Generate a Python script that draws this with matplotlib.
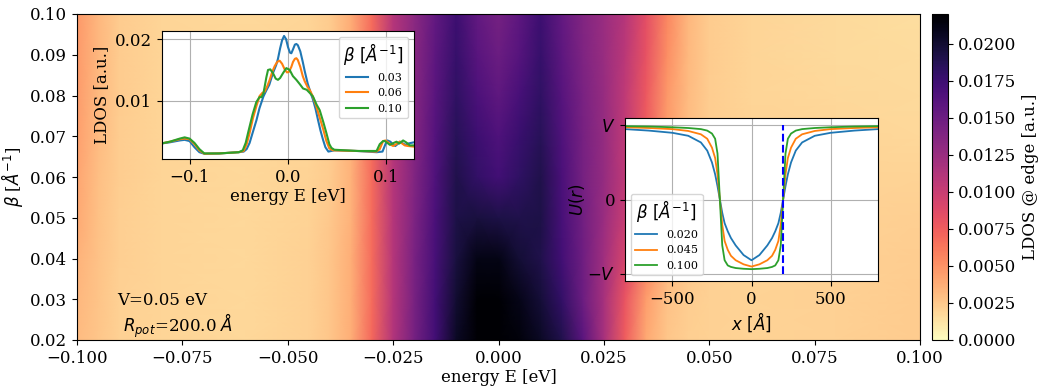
import numpy as np
import matplotlib
matplotlib.use("Agg")
import matplotlib.pyplot as plt

plt.rcParams['font.family'] = 'DejaVu Serif'
plt.rcParams['mathtext.fontset'] = 'dejavusans'
plt.rcParams['font.size'] = 12

# ---------------- main heatmap data ----------------
energy = [-0.100, -0.095, -0.090, -0.080, -0.060, -0.045, -0.040, -0.035, -0.030, -0.025,
          -0.020, -0.015, -0.010, -0.005, 0.000, 0.005, 0.010, 0.015, 0.020, 0.025,
          0.030, 0.035, 0.040, 0.045, 0.050, 0.060, 0.080, 0.100]
beta = [0.02, 0.03, 0.04, 0.05, 0.06, 0.07, 0.08, 0.09, 0.10]

ldos_b002 = [0.0031, 0.0026, 0.0021, 0.0019, 0.0018, 0.0021, 0.0026, 0.0037, 0.0070, 0.0112, 0.0145, 0.0172, 0.0205, 0.0235, 0.0232, 0.0215, 0.0205, 0.0190, 0.0160, 0.0118, 0.0075, 0.0040, 0.0026, 0.0022, 0.0021, 0.0020, 0.0021, 0.0024]
ldos_b003 = [0.0033, 0.0027, 0.0021, 0.0019, 0.0018, 0.0021, 0.0026, 0.0037, 0.0068, 0.0110, 0.0143, 0.0172, 0.0200, 0.0225, 0.0225, 0.0210, 0.0197, 0.0180, 0.0150, 0.0118, 0.0080, 0.0045, 0.0028, 0.0023, 0.0021, 0.0020, 0.0021, 0.0024]
ldos_b004 = [0.0036, 0.0028, 0.0022, 0.0019, 0.0018, 0.0021, 0.0026, 0.0037, 0.0068, 0.0110, 0.0142, 0.0170, 0.0195, 0.0212, 0.0212, 0.0198, 0.0190, 0.0172, 0.0148, 0.0122, 0.0092, 0.0060, 0.0035, 0.0026, 0.0022, 0.0020, 0.0021, 0.0023]
ldos_b005 = [0.0040, 0.0029, 0.0022, 0.0019, 0.0018, 0.0020, 0.0025, 0.0036, 0.0068, 0.0110, 0.0140, 0.0168, 0.0192, 0.0195, 0.0192, 0.0190, 0.0192, 0.0170, 0.0147, 0.0125, 0.0100, 0.0068, 0.0040, 0.0028, 0.0023, 0.0020, 0.0020, 0.0022]
ldos_b006 = [0.0042, 0.0030, 0.0023, 0.0019, 0.0018, 0.0020, 0.0024, 0.0036, 0.0068, 0.0110, 0.0138, 0.0165, 0.0190, 0.0180, 0.0172, 0.0182, 0.0190, 0.0168, 0.0145, 0.0128, 0.0105, 0.0072, 0.0043, 0.0029, 0.0023, 0.0020, 0.0019, 0.0020]
ldos_b007 = [0.0044, 0.0031, 0.0023, 0.0019, 0.0018, 0.0019, 0.0023, 0.0036, 0.0068, 0.0110, 0.0136, 0.0163, 0.0186, 0.0175, 0.0165, 0.0177, 0.0186, 0.0165, 0.0144, 0.0128, 0.0105, 0.0075, 0.0045, 0.0030, 0.0023, 0.0020, 0.0019, 0.0018]
ldos_b008 = [0.0046, 0.0032, 0.0024, 0.0019, 0.0018, 0.0019, 0.0023, 0.0037, 0.0068, 0.0110, 0.0135, 0.0160, 0.0182, 0.0167, 0.0157, 0.0170, 0.0182, 0.0162, 0.0142, 0.0127, 0.0105, 0.0078, 0.0048, 0.0031, 0.0023, 0.0019, 0.0018, 0.0017]
ldos_b009 = [0.0047, 0.0033, 0.0024, 0.0019, 0.0018, 0.0019, 0.0024, 0.0038, 0.0068, 0.0110, 0.0134, 0.0158, 0.0178, 0.0160, 0.0150, 0.0162, 0.0178, 0.0158, 0.0140, 0.0126, 0.0108, 0.0082, 0.0052, 0.0032, 0.0024, 0.0019, 0.0017, 0.0016]
ldos_b010 = [0.0048, 0.0033, 0.0024, 0.0019, 0.0018, 0.0019, 0.0024, 0.0038, 0.0068, 0.0110, 0.0133, 0.0155, 0.0175, 0.0155, 0.0145, 0.0158, 0.0175, 0.0155, 0.0138, 0.0125, 0.0110, 0.0085, 0.0055, 0.0033, 0.0024, 0.0019, 0.0017, 0.0015]

# ---------------- inset 1: LDOS vs energy ----------------
E_b003 = [-0.129, -0.12, -0.11, -0.105, -0.10, -0.095, -0.09, -0.085, -0.07, -0.05, -0.045, -0.042, -0.039, -0.036,
          -0.032, -0.029, -0.025, -0.022, -0.019, -0.0153, -0.012, -0.0102, -0.008, -0.006, -0.004, -0.002, 0.000,
          0.002, 0.0034, 0.005, 0.007, 0.0085, 0.010, 0.0125, 0.015, 0.017, 0.020, 0.023, 0.0254, 0.028, 0.0305,
          0.033, 0.0356, 0.038, 0.041, 0.044, 0.047, 0.07, 0.09, 0.096, 0.099, 0.101, 0.104, 0.107, 0.109, 0.112,
          0.1136, 0.116, 0.119, 0.122, 0.128]
L_b003 = [0.0031, 0.0033, 0.0036, 0.0037, 0.0035, 0.0025, 0.0017, 0.00145, 0.0015, 0.0017, 0.0018, 0.0022, 0.0032,
          0.0048, 0.0069, 0.0088, 0.0107, 0.0117, 0.0126, 0.0145, 0.0158, 0.0168, 0.0185, 0.0198, 0.0205, 0.0200,
          0.0187, 0.0178, 0.0177, 0.0183, 0.0191, 0.0192, 0.0190, 0.0180, 0.0163, 0.0148, 0.0128, 0.0113, 0.0102,
          0.0087, 0.0069, 0.0052, 0.0037, 0.0025, 0.0018, 0.0019, 0.0020, 0.0019, 0.0017, 0.0018, 0.0030, 0.0036,
          0.0034, 0.0029, 0.0027, 0.0031, 0.0034, 0.0032, 0.0029, 0.0031, 0.0033]
E_b006 = [-0.129, -0.12, -0.11, -0.105, -0.10, -0.095, -0.09, -0.085, -0.07, -0.05, -0.045, -0.042, -0.039, -0.0356,
          -0.032, -0.0288, -0.026, -0.0237, -0.021, -0.0186, -0.016, -0.0136, -0.011, -0.0085, -0.006, -0.0034,
          -0.001, 0.001, 0.0034, 0.0051, 0.007, 0.0085, 0.010, 0.0125, 0.015, 0.0169, 0.020, 0.022, 0.025, 0.0288,
          0.032, 0.0356, 0.039, 0.042, 0.0458, 0.07, 0.09, 0.0932, 0.0966, 0.099, 0.1017, 0.1045, 0.1068, 0.110,
          0.1136, 0.116, 0.1186, 0.122, 0.128]
L_b006 = [0.0031, 0.0034, 0.0038, 0.0039, 0.0038, 0.0030, 0.0020, 0.00145, 0.0015, 0.0017, 0.0019, 0.0030, 0.0048,
          0.0072, 0.0092, 0.0108, 0.0113, 0.0115, 0.0124, 0.0134, 0.0147, 0.0156, 0.0163, 0.0165, 0.0160, 0.0151,
          0.0146, 0.0147, 0.0155, 0.0163, 0.0168, 0.0169, 0.0166, 0.0155, 0.0140, 0.0132, 0.0122, 0.0118, 0.0108,
          0.0091, 0.0074, 0.0055, 0.0035, 0.0023, 0.0020, 0.0019, 0.0018, 0.0022, 0.0035, 0.0036, 0.0033, 0.0029,
          0.0027, 0.0030, 0.0034, 0.0031, 0.0028, 0.0027, 0.0026]
E_b010 = [-0.129, -0.12, -0.11, -0.105, -0.10, -0.095, -0.09, -0.085, -0.07, -0.05, -0.046, -0.043, -0.040, -0.036,
          -0.0322, -0.029, -0.027, -0.025, -0.0237, -0.022, -0.0203, -0.018, -0.0153, -0.0125, -0.0102, -0.008,
          -0.005, -0.0017, 0.0017, 0.005, 0.0085, 0.012, 0.0153, 0.019, 0.022, 0.0254, 0.029, 0.0322, 0.036, 0.039,
          0.042, 0.0441, 0.047, 0.07, 0.09, 0.0932, 0.0966, 0.0983, 0.101, 0.1034, 0.106, 0.1102, 0.113, 0.1169,
          0.120, 0.1237, 0.128]
L_b010 = [0.0031, 0.0034, 0.0039, 0.0041, 0.0039, 0.0032, 0.0022, 0.0015, 0.0015, 0.0017, 0.0020, 0.0032, 0.0052,
          0.0078, 0.0098, 0.0106, 0.0106, 0.0112, 0.0123, 0.0138, 0.0150, 0.0151, 0.0145, 0.0136, 0.0134, 0.0137,
          0.0145, 0.0153, 0.0150, 0.0140, 0.0134, 0.0127, 0.0120, 0.0118, 0.0113, 0.0107, 0.0094, 0.0085, 0.0065,
          0.0048, 0.0030, 0.0024, 0.0021, 0.0019, 0.0019, 0.0030, 0.0035, 0.0035, 0.0032, 0.0029, 0.0031, 0.0034,
          0.0031, 0.0036, 0.0033, 0.0028, 0.0028]

# ---------------- inset 2: potential profiles ----------------
V = 0.05
R_pot = 200.0
x_pos = [-800, -650, -500, -400, -320, -280, -250, -230, -215, -200, -185, -170, -150, -130, -100, -50, 0,
         50, 100, 130, 150, 170, 185, 200, 215, 230, 250, 280, 320, 400, 500, 650, 800]
U_b0020 = [0.95, 0.93, 0.90, 0.86, 0.77, 0.66, 0.50, 0.34, 0.18, 0.0, -0.18, -0.32, -0.43, -0.52, -0.62, -0.75, -0.82,
           -0.75, -0.62, -0.52, -0.43, -0.32, -0.18, 0.0, 0.18, 0.34, 0.50, 0.66, 0.77, 0.86, 0.90, 0.93, 0.95]
U_b0045 = [0.975, 0.965, 0.95, 0.925, 0.88, 0.82, 0.70, 0.56, 0.34, 0.0, -0.34, -0.56, -0.68, -0.76, -0.82, -0.875, -0.905,
           -0.875, -0.82, -0.76, -0.68, -0.56, -0.34, 0.0, 0.34, 0.56, 0.70, 0.82, 0.88, 0.925, 0.95, 0.965, 0.975]
U_b0100 = [0.99, 0.985, 0.975, 0.965, 0.95, 0.93, 0.89, 0.82, 0.62, 0.0, -0.62, -0.82, -0.89, -0.91, -0.925, -0.935, -0.94,
           -0.935, -0.925, -0.91, -0.89, -0.82, -0.62, 0.0, 0.62, 0.82, 0.89, 0.93, 0.95, 0.965, 0.975, 0.985, 0.99]

W, H = 1038, 392
fig = plt.figure(figsize=(W / 100, H / 100), dpi=100)

def rect(x0, y0, x1, y1):
    return [x0 / W, 1 - y1 / H, (x1 - x0) / W, (y1 - y0) / H]

ax = fig.add_axes(rect(77, 14, 920, 340))
cax = fig.add_axes(rect(932, 14, 948, 340))

Z = np.array([ldos_b002, ldos_b003, ldos_b004, ldos_b005, ldos_b006,
              ldos_b007, ldos_b008, ldos_b009, ldos_b010])
pc = ax.pcolormesh(energy, beta, Z, shading='gouraud', cmap='magma_r', vmin=0, vmax=0.022)
ax.set_xlim(-0.1, 0.1)
ax.set_ylim(0.02, 0.10)
ax.set_xticks([-0.1, -0.075, -0.05, -0.025, 0, 0.025, 0.05, 0.075, 0.1])
ax.set_xticklabels(['−0.100', '−0.075', '−0.050', '−0.025', '0.000', '0.025', '0.050', '0.075', '0.100'])
ax.set_yticks([0.02, 0.03, 0.04, 0.05, 0.06, 0.07, 0.08, 0.09, 0.10])
ax.set_yticklabels(['0.02', '0.03', '0.04', '0.05', '0.06', '0.07', '0.08', '0.09', '0.10'])
ax.set_xlabel('energy E [eV]', labelpad=2)
ax.set_ylabel(r'$\beta$ [$\AA^{-1}$]')
ax.text(-0.0905, 0.0298, 'V=0.05 eV', va='center', ha='left')
ax.text(-0.0892, 0.0234, r'$R_{pot}$=200.0 $\AA$', va='center', ha='left')

cb = fig.colorbar(pc, cax=cax)
cb.set_ticks([0, 0.0025, 0.005, 0.0075, 0.01, 0.0125, 0.015, 0.0175, 0.02])
cb.set_ticklabels(['0.0000', '0.0025', '0.0050', '0.0075', '0.0100', '0.0125', '0.0150', '0.0175', '0.0200'])
cb.set_label('LDOS @ edge [a.u.]')

# inset 1
ax1 = fig.add_axes(rect(162, 31, 414, 159))
ax1.plot(E_b003, L_b003, color='C0', lw=1.5, label='0.03')
ax1.plot(E_b006, L_b006, color='C1', lw=1.5, label='0.06')
ax1.plot(E_b010, L_b010, color='C2', lw=1.5, label='0.10')
ax1.set_xlim(-0.128, 0.128)
ax1.set_ylim(0.0006, 0.0213)
ax1.set_xticks([-0.1, 0.0, 0.1])
ax1.set_xticklabels(['−0.1', '0.0', '0.1'])
ax1.set_yticks([0.01, 0.02])
ax1.set_yticklabels(['0.01', '0.02'])
ax1.grid(True)
ax1.set_xlabel('energy E [eV]', labelpad=2)
ax1.set_ylabel('LDOS [a.u.]')
ax1.legend(title=r'$\beta\ [\AA^{-1}]$', loc='upper right', fontsize=8, title_fontsize=12)

# inset 2
ax2 = fig.add_axes(rect(625, 118, 878, 281))
ax2.plot(x_pos, np.array(U_b0020) * V, color='C0', lw=1.3, label='0.020')
ax2.plot(x_pos, np.array(U_b0045) * V, color='C1', lw=1.3, label='0.045')
ax2.plot(x_pos, np.array(U_b0100) * V, color='C2', lw=1.3, label='0.100')
ax2.vlines(R_pot, -V, V, colors='blue', linestyles='--', lw=1.5)
ax2.set_xlim(-800, 800)
ax2.set_ylim(-1.1 * V, 1.1 * V)
ax2.set_xticks([-500, 0, 500])
ax2.set_xticklabels(['−500', '0', '500'])
ax2.set_yticks([-V, 0, V])
ax2.set_yticklabels(['$-V$', '0', '$V$'])
ax2.grid(True)
ax2.set_xlabel(r'$x\ [\AA]$', labelpad=2)
ax2.set_ylabel(r'$U(r)$', labelpad=0)
ax2.legend(title=r'$\beta\ [\AA^{-1}]$', loc='lower left', fontsize=8, title_fontsize=12)

fig.savefig('out.png', dpi=100)
